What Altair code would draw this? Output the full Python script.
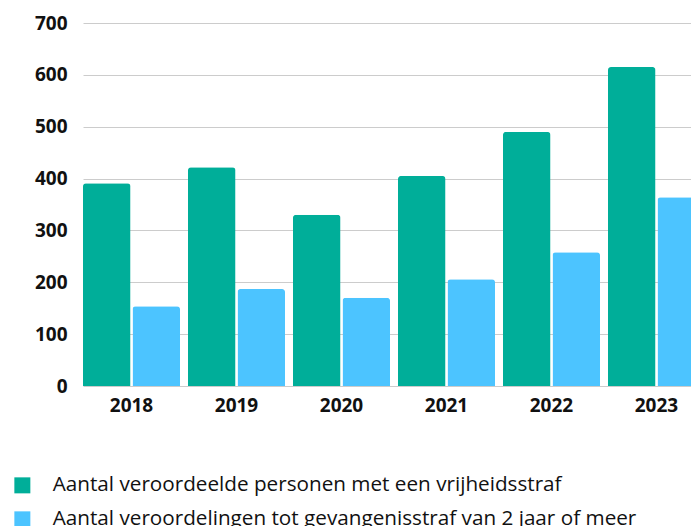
import altair as alt
import pandas as pd

years = ["2018", "2019", "2020", "2021", "2022", "2023"]
series_a = "Aantal veroordeelde personen met een vrijheidsstraf"
series_b = "Aantal veroordelingen tot gevangenisstraf van 2 jaar of meer"
values_a = [391, 422, 330, 405, 490, 615]
values_b = [154, 187, 170, 206, 258, 364]
y_ticks = [0, 100, 200, 300, 400, 500, 600, 700]
colors = ["#00AE99", "#4CC4FF"]

rows = []
for y, a, b in zip(years, values_a, values_b):
    rows.append({"jaar": y, "reeks": series_a, "aantal": a})
    rows.append({"jaar": y, "reeks": series_b, "aantal": b})
df = pd.DataFrame(rows)

font = "Open Sans"

chart = alt.Chart(df).mark_bar(
    cornerRadiusTopLeft=3, cornerRadiusTopRight=3
).encode(
    x=alt.X("jaar:N", sort=years, title=None,
            scale=alt.Scale(range=[0, 622], paddingInner=0.076, paddingOuter=0),
            axis=alt.Axis(labelAngle=0, domain=False, ticks=False, labelPadding=10,
                          labelFont=font, labelFontSize=19, labelFontWeight="bold",
                          labelColor="#111111", grid=False)),
    xOffset=alt.XOffset("reeks:N", sort=[series_a, series_b],
                        scale=alt.Scale(paddingInner=0.04, paddingOuter=0)),
    y=alt.Y("aantal:Q", title=None,
            scale=alt.Scale(domain=[0, 700], nice=False),
            axis=alt.Axis(values=y_ticks, domain=False, ticks=False, labelPadding=16,
                          labelFont=font, labelFontSize=19, labelFontWeight="bold",
                          labelColor="#111111", gridColor="#cccccc", gridWidth=1)),
    color=alt.Color("reeks:N", sort=[series_a, series_b],
                    scale=alt.Scale(domain=[series_a, series_b], range=colors),
                    legend=alt.Legend(title=None, orient="none", legendX=-71, legendY=452,
                                      direction="vertical", symbolType="square",
                                      symbolSize=256, symbolStrokeWidth=0,
                                      labelFont=font, labelFontSize=20.7, labelColor="#111111",
                                      labelOffset=20, rowPadding=12, padding=0,
                                      labelLimit=700)),
).properties(
    width=608, height=363,
    autosize=alt.AutoSizeParams(type="none"),
    padding={"left": 75, "top": 15, "right": 0, "bottom": 140},
).configure_view(stroke=None)

chart.save("out.html", embed_options={"renderer": "svg", "actions": False})
